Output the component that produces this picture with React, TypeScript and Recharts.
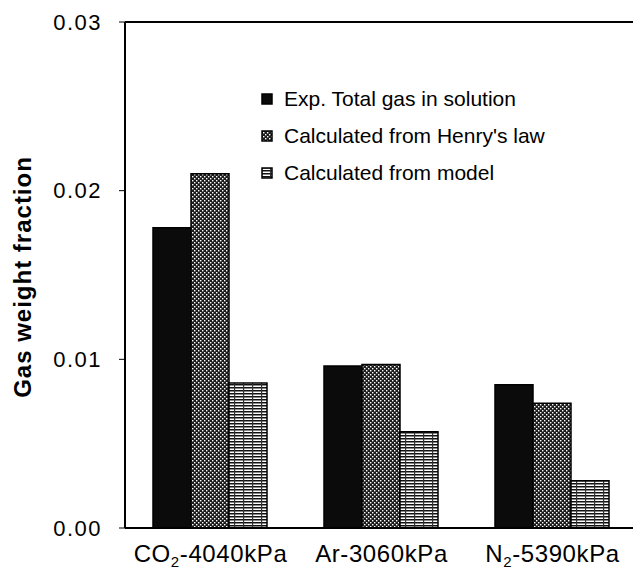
import React from 'react';
import { BarChart, Bar, XAxis, YAxis, Legend, ReferenceLine } from 'recharts';

const categories = ['CO2-4040kPa', 'Ar-3060kPa', 'N2-5390kPa'];
const expTotal = [0.0178, 0.0096, 0.0085];
const henryLaw = [0.021, 0.0097, 0.0074];
const modelCalc = [0.0086, 0.0057, 0.0028];
const yTicks = [0, 0.01, 0.02, 0.03];
const seriesNames = ['Exp. Total gas in solution', "Calculated from Henry's law", 'Calculated from model'];
const yTitle = 'Gas weight fraction';

const data = categories.map((c, i) => ({
  name: c,
  exp: expTotal[i],
  henry: henryLaw[i],
  model: modelCalc[i],
}));

const FONT = '"Liberation Sans", Arial, Helvetica, sans-serif';
const fills = ['#0b0b0b', 'url(#patHenry)', 'url(#patModel)'];

const XTick = (props: any) => {
  const { x, y, payload } = props;
  const m = /^([A-Za-z]+)(\d)(.*)$/.exec(payload.value);
  return (
    <text x={x} y={y + 34} textAnchor="middle" fontSize={24} letterSpacing={0.6} fontFamily={FONT} fill="#000">
      {m ? (
        <>
          <tspan>{m[1]}</tspan>
          <tspan dy={5} fontSize={15}>{m[2]}</tspan>
          <tspan dy={-5}>{m[3]}</tspan>
        </>
      ) : (
        payload.value
      )}
    </text>
  );
};

const YTitle = (props: any) => {
  const vb = props.viewBox || { x: 0, y: 22, width: 125, height: 506 };
  const cx = 22;
  const cy = vb.y + vb.height / 2 + 2;
  return (
    <text
      x={cx}
      y={cy}
      transform={`rotate(-90, ${cx}, ${cy})`}
      textAnchor="middle"
      dominantBaseline="central"
      fontSize={24}
      fontWeight="bold"
      letterSpacing={1}
      fontFamily={FONT}
      fill="#000"
    >
      {yTitle}
    </text>
  );
};

const LegendContent = () => (
  <div style={{ fontFamily: FONT, fontSize: 21, color: '#000' }}>
    {seriesNames.map((n, i) => (
      <div key={n} style={{ display: 'flex', alignItems: 'center', height: 37, whiteSpace: 'nowrap' }}>
        <svg width={23} height={12} style={{ flex: 'none' }}>
          <rect x={1} y={1} width={10} height={10} fill={fills[i]} stroke="#000" strokeWidth={1.5} />
        </svg>
        <span>{n}</span>
      </div>
    ))}
  </div>
);

export default function App() {
  return (
    <div style={{ position: 'fixed', left: 0, top: 0, width: 633, height: 571, overflow: 'hidden', background: '#fff' }}>
      <BarChart
        width={650}
        height={571}
        data={data}
        margin={{ top: 22, right: 12, bottom: 0, left: 0 }}
        barCategoryGap={28}
        barGap={0}
      >
        <defs>
          <pattern id="patHenry" width={4} height={4} patternUnits="userSpaceOnUse">
            <rect width={4} height={4} fill="#1c1c1c" />
            <rect x={0} y={0} width={1.4} height={1.4} fill="#fff" />
            <rect x={2} y={2} width={1.4} height={1.4} fill="#fff" />
          </pattern>
          <pattern id="patModel" width={9} height={3} patternUnits="userSpaceOnUse">
            <rect width={9} height={3} fill="#fff" />
            <rect x={0} y={0} width={9} height={1.5} fill="#111" />
            <rect x={0} y={0} width={1.2} height={3} fill="#333" />
          </pattern>
        </defs>
        <XAxis
          dataKey="name"
          tick={<XTick />}
          tickLine={false}
          tickSize={0}
          tickMargin={0}
          height={43}
          axisLine={{ stroke: '#000', strokeWidth: 2 }}
          interval={0}
        />
        <YAxis
          width={125}
          domain={[0, 0.03]}
          ticks={yTicks}
          tickFormatter={(v: number) => v.toFixed(2)}
          tickSize={6}
          tickMargin={17}
          tick={{ fontSize: 22, fill: '#000', fontFamily: FONT, letterSpacing: 1.5 }}
          tickLine={{ stroke: '#000', strokeWidth: 1 }}
          axisLine={{ stroke: '#000', strokeWidth: 2 }}
          label={<YTitle />}
          allowDataOverflow
        />
        <ReferenceLine y={0.03} stroke="#000" strokeWidth={2} ifOverflow="visible" />
        <Legend
          layout="vertical"
          align="center"
          verticalAlign="middle"
          content={<LegendContent />}
          wrapperStyle={{ left: 261, top: 80, width: 320, height: 111 }}
        />
        <Bar dataKey="exp" name={seriesNames[0]} fill={fills[0]} stroke="#000" strokeWidth={1.5} isAnimationActive={false} />
        <Bar dataKey="henry" name={seriesNames[1]} fill={fills[1]} stroke="#000" strokeWidth={1.5} isAnimationActive={false} />
        <Bar dataKey="model" name={seriesNames[2]} fill={fills[2]} stroke="#000" strokeWidth={1.5} isAnimationActive={false} />
      </BarChart>
    </div>
  );
}
